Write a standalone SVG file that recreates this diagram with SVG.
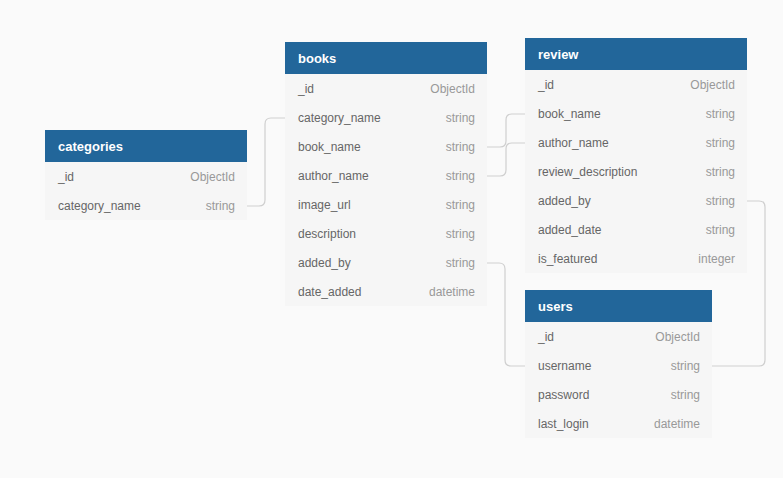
<svg xmlns="http://www.w3.org/2000/svg" width="783" height="478" viewBox="0 0 783 478">
<style>
.hd{fill:#22669a}
.bd{fill:#f6f6f6}
.ht{font-family:"Liberation Sans",Arial,sans-serif;font-size:13px;font-weight:bold;fill:#ffffff}
.fn{font-family:"Liberation Sans",Arial,sans-serif;font-size:12px;fill:#666666}
.ft{font-family:"Liberation Sans",Arial,sans-serif;font-size:12px;fill:#999999;text-anchor:end}
.cn{fill:none;stroke:#cfcfcf;stroke-width:1.2}
</style>
<rect width="783" height="478" fill="#fafafa"/>
<g id="connectors">
<path class="cn" d="M247,206 H259 Q265,206 265,200 V124 Q265,118 271,118 H285"/>
<path class="cn" d="M487,147 H500 Q506,147 506,141 V120 Q506,114 512,114 H525"/>
<path class="cn" d="M487,176 H500 Q506,176 506,170 V149 Q506,143 512,143 H525"/>
<path class="cn" d="M487,263 H499 Q505,263 505,269 V360 Q505,366 511,366 H525"/>
<path class="cn" d="M747,201 H759 Q765,201 765,207 V360 Q765,366 759,366 H712"/>
</g>
<g id="categories">
<rect class="bd" x="45" y="162" width="202" height="58"/>
<rect class="hd" x="45" y="130" width="202" height="32"/>
<text class="ht" x="58" y="151">categories</text>
<text class="fn" x="58" y="181">_id</text><text class="ft" x="235" y="181">ObjectId</text>
<text class="fn" x="58" y="210">category_name</text><text class="ft" x="235" y="210">string</text>
</g>
<g id="books">
<rect class="bd" x="285" y="74" width="202" height="232"/>
<rect class="hd" x="285" y="42" width="202" height="32"/>
<text class="ht" x="298" y="63">books</text>
<text class="fn" x="298" y="93">_id</text><text class="ft" x="475" y="93">ObjectId</text>
<text class="fn" x="298" y="122">category_name</text><text class="ft" x="475" y="122">string</text>
<text class="fn" x="298" y="151">book_name</text><text class="ft" x="475" y="151">string</text>
<text class="fn" x="298" y="180">author_name</text><text class="ft" x="475" y="180">string</text>
<text class="fn" x="298" y="209">image_url</text><text class="ft" x="475" y="209">string</text>
<text class="fn" x="298" y="238">description</text><text class="ft" x="475" y="238">string</text>
<text class="fn" x="298" y="267">added_by</text><text class="ft" x="475" y="267">string</text>
<text class="fn" x="298" y="296">date_added</text><text class="ft" x="475" y="296">datetime</text>
</g>
<g id="review">
<rect class="bd" x="525" y="70" width="222" height="203"/>
<rect class="hd" x="525" y="38" width="222" height="32"/>
<text class="ht" x="538" y="59">review</text>
<text class="fn" x="538" y="89">_id</text><text class="ft" x="735" y="89">ObjectId</text>
<text class="fn" x="538" y="118">book_name</text><text class="ft" x="735" y="118">string</text>
<text class="fn" x="538" y="147">author_name</text><text class="ft" x="735" y="147">string</text>
<text class="fn" x="538" y="176">review_description</text><text class="ft" x="735" y="176">string</text>
<text class="fn" x="538" y="205">added_by</text><text class="ft" x="735" y="205">string</text>
<text class="fn" x="538" y="234">added_date</text><text class="ft" x="735" y="234">string</text>
<text class="fn" x="538" y="263">is_featured</text><text class="ft" x="735" y="263">integer</text>
</g>
<g id="users">
<rect class="bd" x="525" y="322" width="187" height="116"/>
<rect class="hd" x="525" y="290" width="187" height="32"/>
<text class="ht" x="538" y="311">users</text>
<text class="fn" x="538" y="341">_id</text><text class="ft" x="700" y="341">ObjectId</text>
<text class="fn" x="538" y="370">username</text><text class="ft" x="700" y="370">string</text>
<text class="fn" x="538" y="399">password</text><text class="ft" x="700" y="399">string</text>
<text class="fn" x="538" y="428">last_login</text><text class="ft" x="700" y="428">datetime</text>
</g>
</svg>
